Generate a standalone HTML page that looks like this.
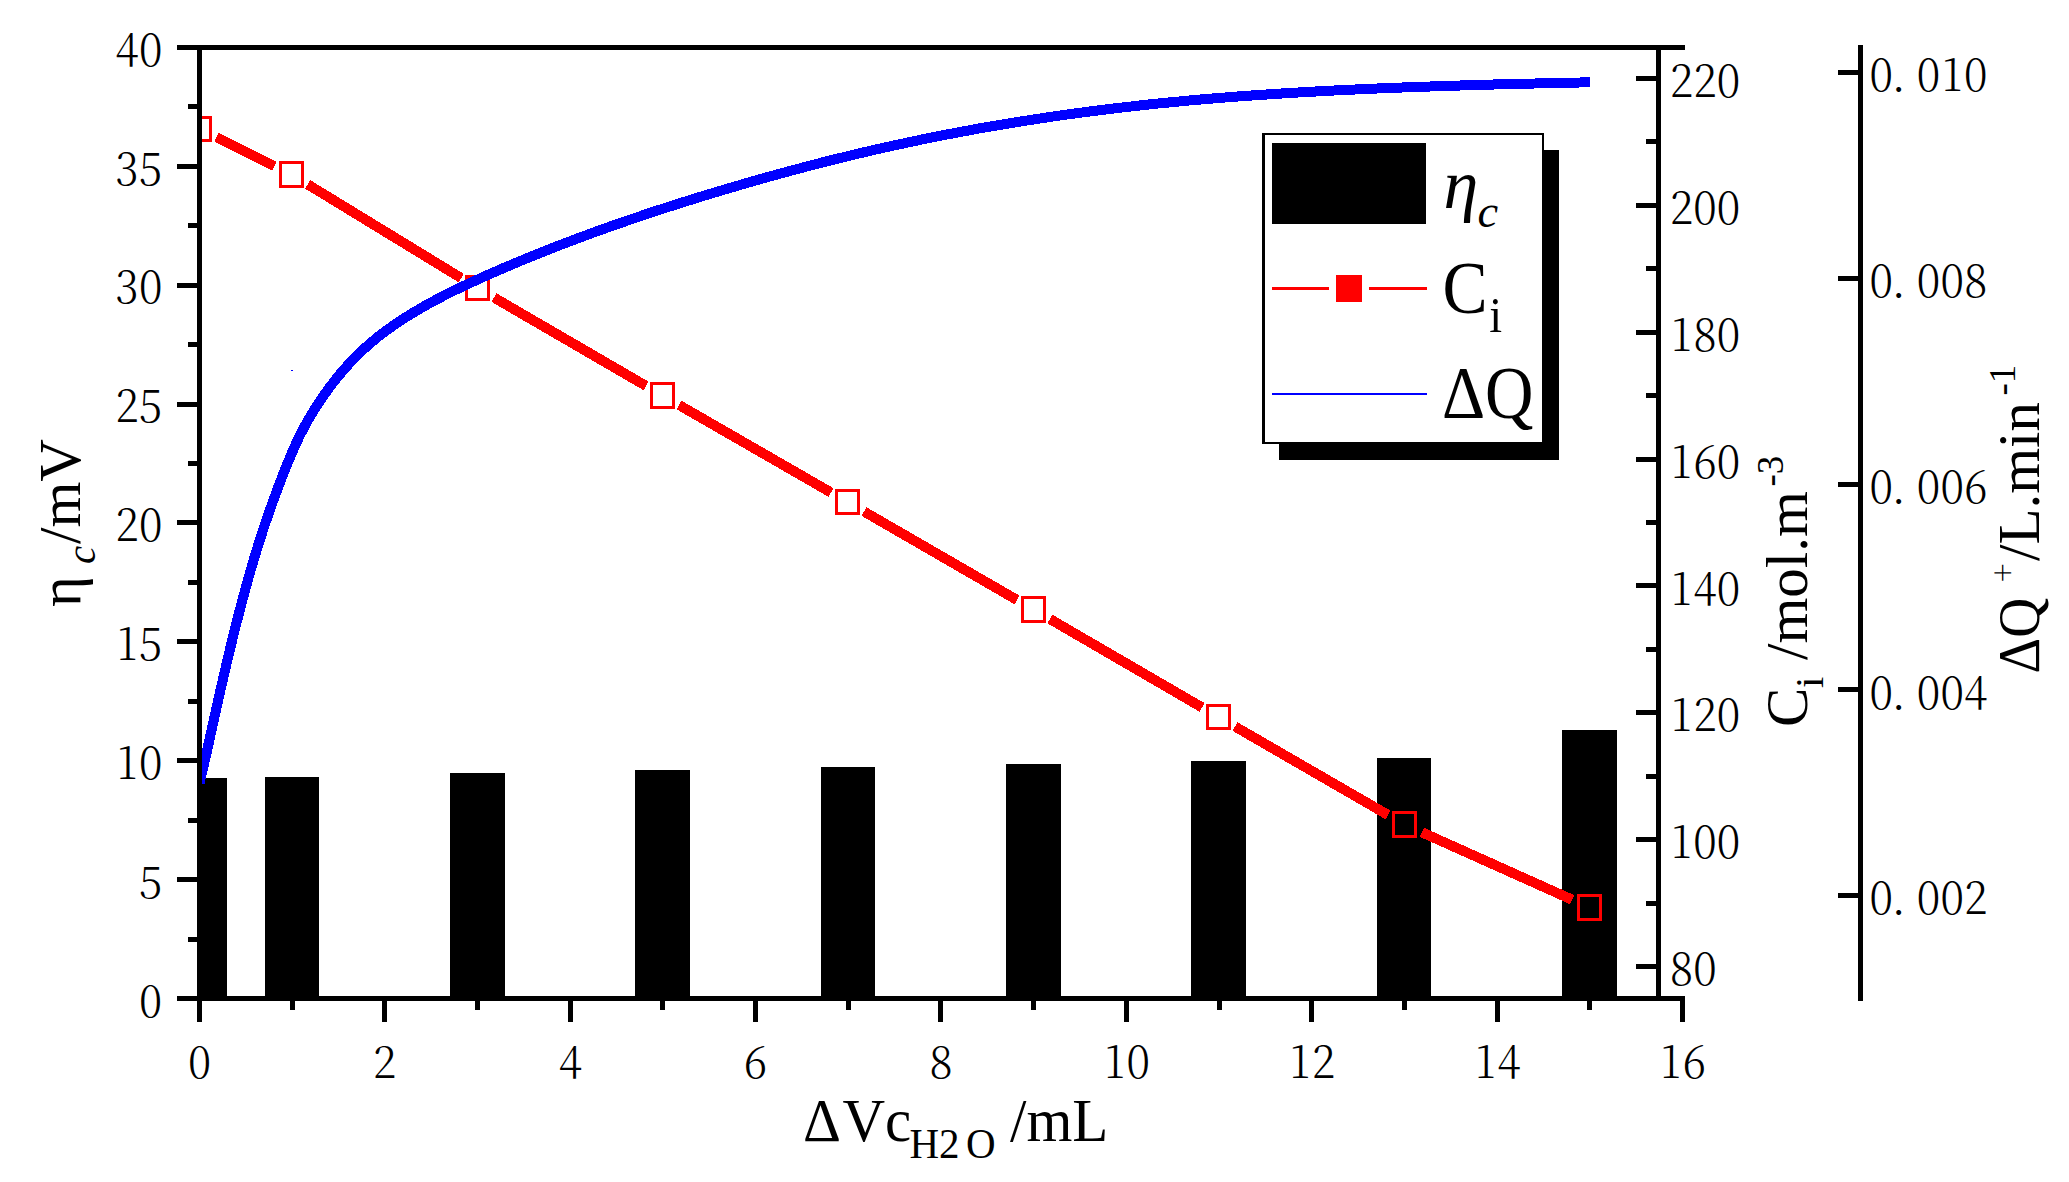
<!DOCTYPE html>
<html lang="en"><head><meta charset="utf-8"><title>Chart</title>
<style>html,body{margin:0;padding:0;background:#fff}svg{display:block}.tk{font-family:"Noto Serif CJK SC","Liberation Serif",serif;font-weight:300;font-size:44px;fill:#000}.ti{font-family:"Liberation Serif",serif;font-size:59px;fill:#000}.ts{font-family:"Liberation Serif",serif;font-size:41px;fill:#000}.lg{font-family:"Liberation Serif",serif;font-size:72px;fill:#000}.ls{font-family:"Liberation Serif",serif;font-size:50px;fill:#000}</style></head><body>
<svg width="2069" height="1182" viewBox="0 0 2069 1182">
<rect x="0" y="0" width="2069" height="1182" fill="#fff"/>
<defs><clipPath id="plot"><rect x="199.5" y="47.5" width="1483" height="951"/></clipPath></defs>
<g clip-path="url(#plot)" shape-rendering="crispEdges">
<rect x="172" y="778" width="55" height="220" fill="#000"/>
<rect x="265" y="777" width="54" height="221" fill="#000"/>
<rect x="450" y="773" width="55" height="225" fill="#000"/>
<rect x="635" y="770" width="55" height="228" fill="#000"/>
<rect x="821" y="767" width="54" height="231" fill="#000"/>
<rect x="1006" y="764" width="55" height="234" fill="#000"/>
<rect x="1191" y="761" width="55" height="237" fill="#000"/>
<rect x="1377" y="758" width="54" height="240" fill="#000"/>
<rect x="1562" y="730" width="55" height="268" fill="#000"/>
<line x1="216.53" y1="137.42" x2="274.47" y2="166.08" stroke="#f00" stroke-width="10"/>
<line x1="307.72" y1="184.40" x2="461.28" y2="278.10" stroke="#f00" stroke-width="10"/>
<line x1="493.93" y1="297.55" x2="646.07" y2="385.95" stroke="#f00" stroke-width="10"/>
<line x1="678.97" y1="404.98" x2="831.03" y2="492.52" stroke="#f00" stroke-width="10"/>
<line x1="863.95" y1="511.51" x2="1017.05" y2="599.99" stroke="#f00" stroke-width="10"/>
<line x1="1049.93" y1="619.05" x2="1202.07" y2="707.45" stroke="#f00" stroke-width="10"/>
<line x1="1234.95" y1="726.51" x2="1388.05" y2="814.99" stroke="#f00" stroke-width="10"/>
<line x1="1421.84" y1="832.28" x2="1572.16" y2="899.72" stroke="#f00" stroke-width="10"/>
<path fill="#f00" fill-rule="evenodd" d="M187,116h25v26h-25z M190,119h19v20h-19z"/>
<path fill="#f00" fill-rule="evenodd" d="M279,161h25v27h-25z M282,164h19v21h-19z"/>
<path fill="#f00" fill-rule="evenodd" d="M465,275h25v26h-25z M468,278h19v20h-19z"/>
<path fill="#f00" fill-rule="evenodd" d="M650,382h25v27h-25z M653,385h19v21h-19z"/>
<path fill="#f00" fill-rule="evenodd" d="M835,489h25v26h-25z M838,492h19v20h-19z"/>
<path fill="#f00" fill-rule="evenodd" d="M1021,596h25v27h-25z M1024,599h19v21h-19z"/>
<path fill="#f00" fill-rule="evenodd" d="M1206,704h25v26h-25z M1209,707h19v20h-19z"/>
<path fill="#f00" fill-rule="evenodd" d="M1392,811h25v27h-25z M1395,814h19v21h-19z"/>
<path fill="#f00" fill-rule="evenodd" d="M1577,894h25v27h-25z M1580,897h19v21h-19z"/>
<path d="M199.5,783.0 L203.5,766.5 L207.5,748.7 L211.5,730.4 L215.5,712.3 L219.5,694.3 L223.5,676.8 L227.5,659.7 L231.5,643.0 L235.5,626.8 L239.5,611.1 L243.5,595.9 L247.5,581.3 L251.5,567.3 L255.5,553.9 L259.5,541.0 L263.5,528.6 L267.5,516.8 L271.5,505.4 L275.5,494.4 L279.5,483.8 L283.5,473.4 L287.5,463.4 L291.5,453.8 L295.5,444.7 L299.5,436.3 L303.5,428.4 L307.5,421.0 L311.5,414.2 L315.5,407.7 L319.5,401.6 L323.5,395.8 L327.5,390.2 L331.5,384.8 L335.5,379.7 L339.5,374.7 L343.5,370.0 L347.5,365.5 L351.5,361.2 L355.5,357.1 L359.5,353.1 L363.5,349.3 L367.5,345.7 L371.5,342.2 L375.5,338.9 L379.5,335.7 L383.5,332.6 L387.5,329.7 L391.5,326.8 L395.5,324.0 L399.5,321.3 L403.5,318.7 L407.5,316.2 L411.5,313.7 L415.5,311.3 L419.5,309.0 L423.5,306.7 L427.5,304.4 L431.5,302.2 L435.5,300.1 L439.5,298.0 L443.5,295.9 L447.5,293.9 L451.5,291.9 L455.5,289.9 L459.5,288.0 L463.5,286.1 L467.5,284.2 L471.5,282.3 L475.5,280.5 L479.5,278.7 L483.5,276.9 L487.5,275.1 L491.5,273.3 L495.5,271.6 L499.5,269.8 L503.5,268.1 L507.5,266.4 L511.5,264.7 L515.5,263.0 L519.5,261.3 L523.5,259.7 L527.5,258.0 L531.5,256.4 L535.5,254.8 L539.5,253.2 L543.5,251.6 L547.5,250.0 L551.5,248.4 L555.5,246.8 L559.5,245.3 L560.0,245.1 L575.0,239.4 L590.0,233.8 L605.0,228.4 L620.0,223.1 L635.0,218.0 L650.0,212.9 L665.0,208.0 L680.0,203.2 L695.0,198.5 L710.0,193.9 L725.0,189.4 L740.0,185.0 L755.0,180.7 L770.0,176.4 L785.0,172.3 L800.0,168.3 L815.0,164.3 L830.0,160.5 L845.0,156.8 L860.0,153.2 L875.0,149.7 L890.0,146.3 L905.0,143.1 L920.0,139.9 L935.0,136.9 L950.0,133.9 L965.0,131.1 L980.0,128.3 L995.0,125.7 L1010.0,123.2 L1025.0,120.8 L1040.0,118.5 L1055.0,116.2 L1070.0,114.1 L1085.0,112.1 L1100.0,110.2 L1115.0,108.3 L1130.0,106.6 L1145.0,104.9 L1160.0,103.3 L1175.0,101.9 L1190.0,100.4 L1205.0,99.1 L1220.0,97.9 L1235.0,96.7 L1250.0,95.6 L1265.0,94.6 L1280.0,93.6 L1295.0,92.7 L1310.0,91.8 L1325.0,91.0 L1340.0,90.2 L1355.0,89.5 L1370.0,88.8 L1385.0,88.2 L1400.0,87.6 L1415.0,87.0 L1430.0,86.5 L1445.0,86.0 L1460.0,85.5 L1475.0,85.0 L1490.0,84.6 L1505.0,84.2 L1520.0,83.8 L1535.0,83.5 L1550.0,83.1 L1565.0,82.8 L1580.0,82.5 L1589.8,82.3" fill="none" stroke="#00f" stroke-width="10" stroke-linejoin="round"/>
</g>
<g shape-rendering="crispEdges">
<rect x="291" y="370" width="2" height="1" fill="#00f"/>
<rect x="197" y="45" width="5" height="956" fill="#000"/>
<rect x="177" y="45" width="1508" height="5" fill="#000"/>
<rect x="177" y="996" width="1508" height="5" fill="#000"/>
<rect x="1656" y="45" width="5" height="956" fill="#000"/>
<rect x="1858" y="45" width="5" height="956" fill="#000"/>
<rect x="177" y="996" width="20" height="5" fill="#000"/>
<rect x="188" y="937" width="9" height="5" fill="#000"/>
<rect x="177" y="877" width="20" height="5" fill="#000"/>
<rect x="188" y="818" width="9" height="5" fill="#000"/>
<rect x="177" y="758" width="20" height="5" fill="#000"/>
<rect x="188" y="699" width="9" height="5" fill="#000"/>
<rect x="177" y="639" width="20" height="5" fill="#000"/>
<rect x="188" y="580" width="9" height="5" fill="#000"/>
<rect x="177" y="520" width="20" height="5" fill="#000"/>
<rect x="188" y="461" width="9" height="5" fill="#000"/>
<rect x="177" y="402" width="20" height="5" fill="#000"/>
<rect x="188" y="342" width="9" height="5" fill="#000"/>
<rect x="177" y="283" width="20" height="5" fill="#000"/>
<rect x="188" y="223" width="9" height="5" fill="#000"/>
<rect x="177" y="164" width="20" height="5" fill="#000"/>
<rect x="188" y="104" width="9" height="5" fill="#000"/>
<rect x="177" y="45" width="20" height="5" fill="#000"/>
<rect x="197" y="1001" width="5" height="21" fill="#000"/>
<rect x="290" y="1001" width="5" height="9" fill="#000"/>
<rect x="382" y="1001" width="5" height="21" fill="#000"/>
<rect x="475" y="1001" width="5" height="9" fill="#000"/>
<rect x="568" y="1001" width="5" height="21" fill="#000"/>
<rect x="660" y="1001" width="5" height="9" fill="#000"/>
<rect x="753" y="1001" width="5" height="21" fill="#000"/>
<rect x="846" y="1001" width="5" height="9" fill="#000"/>
<rect x="938" y="1001" width="5" height="21" fill="#000"/>
<rect x="1031" y="1001" width="5" height="9" fill="#000"/>
<rect x="1124" y="1001" width="5" height="21" fill="#000"/>
<rect x="1217" y="1001" width="5" height="9" fill="#000"/>
<rect x="1309" y="1001" width="5" height="21" fill="#000"/>
<rect x="1402" y="1001" width="5" height="9" fill="#000"/>
<rect x="1495" y="1001" width="5" height="21" fill="#000"/>
<rect x="1587" y="1001" width="5" height="9" fill="#000"/>
<rect x="1680" y="1001" width="5" height="21" fill="#000"/>
<rect x="1636" y="964" width="20" height="5" fill="#000"/>
<rect x="1646" y="901" width="10" height="5" fill="#000"/>
<rect x="1636" y="837" width="20" height="5" fill="#000"/>
<rect x="1646" y="774" width="10" height="5" fill="#000"/>
<rect x="1636" y="710" width="20" height="5" fill="#000"/>
<rect x="1646" y="647" width="10" height="5" fill="#000"/>
<rect x="1636" y="583" width="20" height="5" fill="#000"/>
<rect x="1646" y="520" width="10" height="5" fill="#000"/>
<rect x="1636" y="457" width="20" height="5" fill="#000"/>
<rect x="1646" y="393" width="10" height="5" fill="#000"/>
<rect x="1636" y="330" width="20" height="5" fill="#000"/>
<rect x="1646" y="266" width="10" height="5" fill="#000"/>
<rect x="1636" y="203" width="20" height="5" fill="#000"/>
<rect x="1646" y="139" width="10" height="5" fill="#000"/>
<rect x="1636" y="76" width="20" height="5" fill="#000"/>
<rect x="1838" y="893" width="20" height="5" fill="#000"/>
<rect x="1838" y="687" width="20" height="5" fill="#000"/>
<rect x="1838" y="482" width="20" height="5" fill="#000"/>
<rect x="1838" y="276" width="20" height="5" fill="#000"/>
<rect x="1838" y="70" width="20" height="5" fill="#000"/>
</g>
<text class="tk" transform="scale(0.97,1)" text-anchor="middle" x="155.26" y="1016.7">0</text>
<text class="tk" transform="scale(0.97,1)" text-anchor="middle" x="155.26" y="897.8">5</text>
<text class="tk" transform="scale(0.97,1)" text-anchor="middle" x="130.93 155.26" y="779.0">10</text>
<text class="tk" transform="scale(0.97,1)" text-anchor="middle" x="130.93 155.26" y="660.1">15</text>
<text class="tk" transform="scale(0.97,1)" text-anchor="middle" x="130.93 155.26" y="541.2">20</text>
<text class="tk" transform="scale(0.97,1)" text-anchor="middle" x="130.93 155.26" y="422.3">25</text>
<text class="tk" transform="scale(0.97,1)" text-anchor="middle" x="130.93 155.26" y="303.4">30</text>
<text class="tk" transform="scale(0.97,1)" text-anchor="middle" x="130.93 155.26" y="184.6">35</text>
<text class="tk" transform="scale(0.97,1)" text-anchor="middle" x="130.93 155.26" y="65.7">40</text>
<text class="tk" transform="scale(0.97,1)" text-anchor="middle" x="205.67" y="1077.6">0</text>
<text class="tk" transform="scale(0.97,1)" text-anchor="middle" x="396.78" y="1077.6">2</text>
<text class="tk" transform="scale(0.97,1)" text-anchor="middle" x="587.89" y="1077.6">4</text>
<text class="tk" transform="scale(0.97,1)" text-anchor="middle" x="778.99" y="1077.6">6</text>
<text class="tk" transform="scale(0.97,1)" text-anchor="middle" x="970.10" y="1077.6">8</text>
<text class="tk" transform="scale(0.97,1)" text-anchor="middle" x="1149.05 1173.38" y="1077.6">10</text>
<text class="tk" transform="scale(0.97,1)" text-anchor="middle" x="1340.15 1364.48" y="1077.6">12</text>
<text class="tk" transform="scale(0.97,1)" text-anchor="middle" x="1531.26 1555.59" y="1077.6">14</text>
<text class="tk" transform="scale(0.97,1)" text-anchor="middle" x="1722.37 1746.70" y="1077.6">16</text>
<text class="tk" transform="scale(0.97,1)" text-anchor="middle" x="1733.40 1757.73" y="985.2">80</text>
<text class="tk" transform="scale(0.97,1)" text-anchor="middle" x="1733.40 1757.73 1782.06" y="858.3">100</text>
<text class="tk" transform="scale(0.97,1)" text-anchor="middle" x="1733.40 1757.73 1782.06" y="731.5">120</text>
<text class="tk" transform="scale(0.97,1)" text-anchor="middle" x="1733.40 1757.73 1782.06" y="604.6">140</text>
<text class="tk" transform="scale(0.97,1)" text-anchor="middle" x="1733.40 1757.73 1782.06" y="477.8">160</text>
<text class="tk" transform="scale(0.97,1)" text-anchor="middle" x="1733.40 1757.73 1782.06" y="350.9">180</text>
<text class="tk" transform="scale(0.97,1)" text-anchor="middle" x="1733.40 1757.73 1782.06" y="224.0">200</text>
<text class="tk" transform="scale(0.97,1)" text-anchor="middle" x="1733.40 1757.73 1782.06" y="97.2">220</text>
<text class="tk" transform="scale(0.97,1)" text-anchor="middle" x="1939.48 1957.32 1988.14 2012.47 2036.80" y="914.4">0.002</text>
<text class="tk" transform="scale(0.97,1)" text-anchor="middle" x="1939.48 1957.32 1988.14 2012.47 2036.80" y="708.6">0.004</text>
<text class="tk" transform="scale(0.97,1)" text-anchor="middle" x="1939.48 1957.32 1988.14 2012.47 2036.80" y="502.9">0.006</text>
<text class="tk" transform="scale(0.97,1)" text-anchor="middle" x="1939.48 1957.32 1988.14 2012.47 2036.80" y="297.1">0.008</text>
<text class="tk" transform="scale(0.97,1)" text-anchor="middle" x="1939.48 1957.32 1988.14 2012.47 2036.80" y="91.4">0.010</text>
<g shape-rendering="crispEdges">
<rect x="1279" y="150" width="280" height="310" fill="#000"/>
<rect x="1262" y="133" width="282" height="311" fill="#000"/>
<rect x="1265" y="135" width="277" height="307" fill="#fff"/>
<rect x="1272" y="143" width="154" height="81" fill="#000"/>
<rect x="1272" y="287" width="57" height="3" fill="#f00"/>
<rect x="1369" y="287" width="58" height="3" fill="#f00"/>
<rect x="1336" y="275" width="26" height="27" fill="#f00"/>
<rect x="1272" y="392.7" width="155" height="2.5" fill="#00f"/>
</g>
<text class="lg" x="1443.5" y="208" font-style="italic" style="font-size:70px">η</text>
<text class="ls" x="1477.5" y="227.3" font-style="italic" style="font-size:46.5px">c</text>
<text class="lg" transform="translate(1442.5,313.2) scale(0.908,1)" style="font-size:74.5px">C</text>
<text class="ls" transform="translate(1489.3,332) scale(0.908,1)" style="font-size:51px">i</text>
<text class="lg" transform="translate(1442,418) scale(0.9,1)" style="font-size:74.5px">ΔQ</text>
<text class="ti" transform="translate(80,607) rotate(-90)">η</text>
<text class="ts" transform="translate(95,564) rotate(-90)" font-style="italic">c</text>
<text class="ti" transform="translate(80,544) rotate(-90)">/mV</text>
<text class="ti" transform="translate(1806.7,727) rotate(-90)">C</text>
<text class="ts" transform="translate(1823,688) rotate(-90)">i</text>
<text class="ti" transform="translate(1806.7,660) rotate(-90)">/mol.m</text>
<text class="ts" transform="translate(1783,486.5) rotate(-90)" style="font-size:37px">-3</text>
<text class="ti" transform="translate(2039,673.5) rotate(-90) scale(0.94,1)">ΔQ</text>
<text class="tk" transform="translate(2014,582) rotate(-90)" style="font-size:32px">+</text>
<text class="ti" transform="translate(2039,561) rotate(-90)">/L.min</text>
<text class="ts" transform="translate(2015,395.5) rotate(-90)" style="font-size:37px">-1</text>
<text class="ti" transform="translate(803,1140.7) scale(1,1.03)">Δ</text>
<text class="ti" transform="translate(842.5,1140.7) scale(1,1.03)">Vc</text>
<text class="ts" transform="translate(909.5,1157.8) scale(1,1.03)">H2</text>
<text class="ts" transform="translate(966,1157.8) scale(1,1.03)">O</text>
<text class="ti" transform="translate(1010,1140.7) scale(1,1.03)">/mL</text>
</svg></body></html>
